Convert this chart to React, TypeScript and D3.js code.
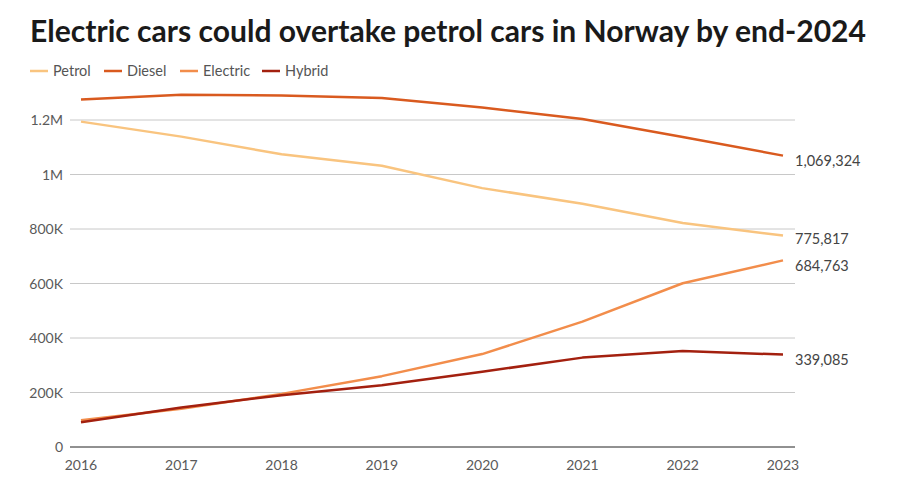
import React from "react";
import * as d3 from "d3";

const years = [2016, 2017, 2018, 2019, 2020, 2021, 2022, 2023];
const petrol = [1194000, 1139000, 1074000, 1032000, 950000, 893000, 822000, 775817];
const diesel = [1275000, 1293000, 1290000, 1281000, 1246000, 1204000, 1138000, 1069324];
const electric = [98000, 140000, 195000, 260000, 341000, 460000, 601000, 684763];
const hybrid = [91000, 145000, 190000, 227000, 276000, 328000, 352000, 339085];
const yTicks = [0, 200000, 400000, 600000, 800000, 1000000, 1200000];
const yTickLabels = ["0", "200K", "400K", "600K", "800K", "1M", "1.2M"];
const seriesNames = ["Petrol", "Diesel", "Electric", "Hybrid"];
const seriesColors = ["#f9c47f", "#d95a1f", "#f28d4b", "#a3200f"];
const seriesValues = [petrol, diesel, electric, hybrid];
const endLabels = ["775,817", "1,069,324", "684,763", "339,085"];
const title = "Electric cars could overtake petrol cars in Norway by end-2024";

const W = 915;
const H = 488;
const FONT = "'Source Sans Pro', Lato, 'Noto Sans', sans-serif";

export default function App() {
  const x = d3.scaleLinear().domain([2016, 2023]).range([81, 783]);
  const y = d3.scaleLinear().domain([0, 1200000]).range([447, 120]);
  const line = d3
    .line<number>()
    .x((_, i) => x(years[i]))
    .y((d) => y(d));
  const legendX = [30, 104, 180, 262];
  const labelDy = [8.5, 10, 11, 10];

  return (
    <svg
      width={W}
      height={H}
      style={{ position: "absolute", left: 0, top: 0, background: "#fff" }}
    >
      <text
        x={30}
        y={42}
        fontFamily={FONT}
        fontWeight={700}
        fontSize={30}
        fill="#1a1a1a"
        textLength={836}
        lengthAdjust="spacingAndGlyphs"
      >
        {title}
      </text>
      {seriesNames.map((n, i) => (
        <g key={n}>
          <line
            x1={legendX[i]}
            x2={legendX[i] + 18}
            y1={71}
            y2={71}
            stroke={seriesColors[i]}
            strokeWidth={2.5}
          />
          <text
            x={legendX[i] + 23}
            y={76}
            fontFamily={FONT}
            fontSize={14.5}
            fill="#555"
          >
            {n}
          </text>
        </g>
      ))}
      {yTicks.map((t, i) => (
        <g key={t}>
          {t !== 0 && (
            <line x1={70} x2={795} y1={y(t)} y2={y(t)} stroke="#c8c8c8" strokeWidth={1} />
          )}
          <text
            x={63}
            y={y(t) + 5}
            textAnchor="end"
            fontFamily={FONT}
            fontSize={14}
            fill="#5a5a5a"
          >
            {yTickLabels[i]}
          </text>
        </g>
      ))}
      {seriesValues.map((vals, i) => (
        <path
          key={seriesNames[i]}
          d={line(vals) || ""}
          fill="none"
          stroke={seriesColors[i]}
          strokeWidth={2.5}
          strokeLinejoin="round"
        />
      ))}
      <line x1={70} x2={795} y1={y(0)} y2={y(0)} stroke="#222" strokeWidth={1} />
      {years.map((yr) => (
        <text
          key={yr}
          x={x(yr)}
          y={470}
          textAnchor="middle"
          fontFamily={FONT}
          fontSize={14}
          fill="#5a5a5a"
        >
          {yr}
        </text>
      ))}
      {seriesValues.map((vals, i) => (
        <text
          key={endLabels[i]}
          x={795}
          y={y(vals[vals.length - 1]) + labelDy[i]}
          fontFamily={FONT}
          fontSize={14.5}
          fill="#444"
        >
          {endLabels[i]}
        </text>
      ))}
    </svg>
  );
}
